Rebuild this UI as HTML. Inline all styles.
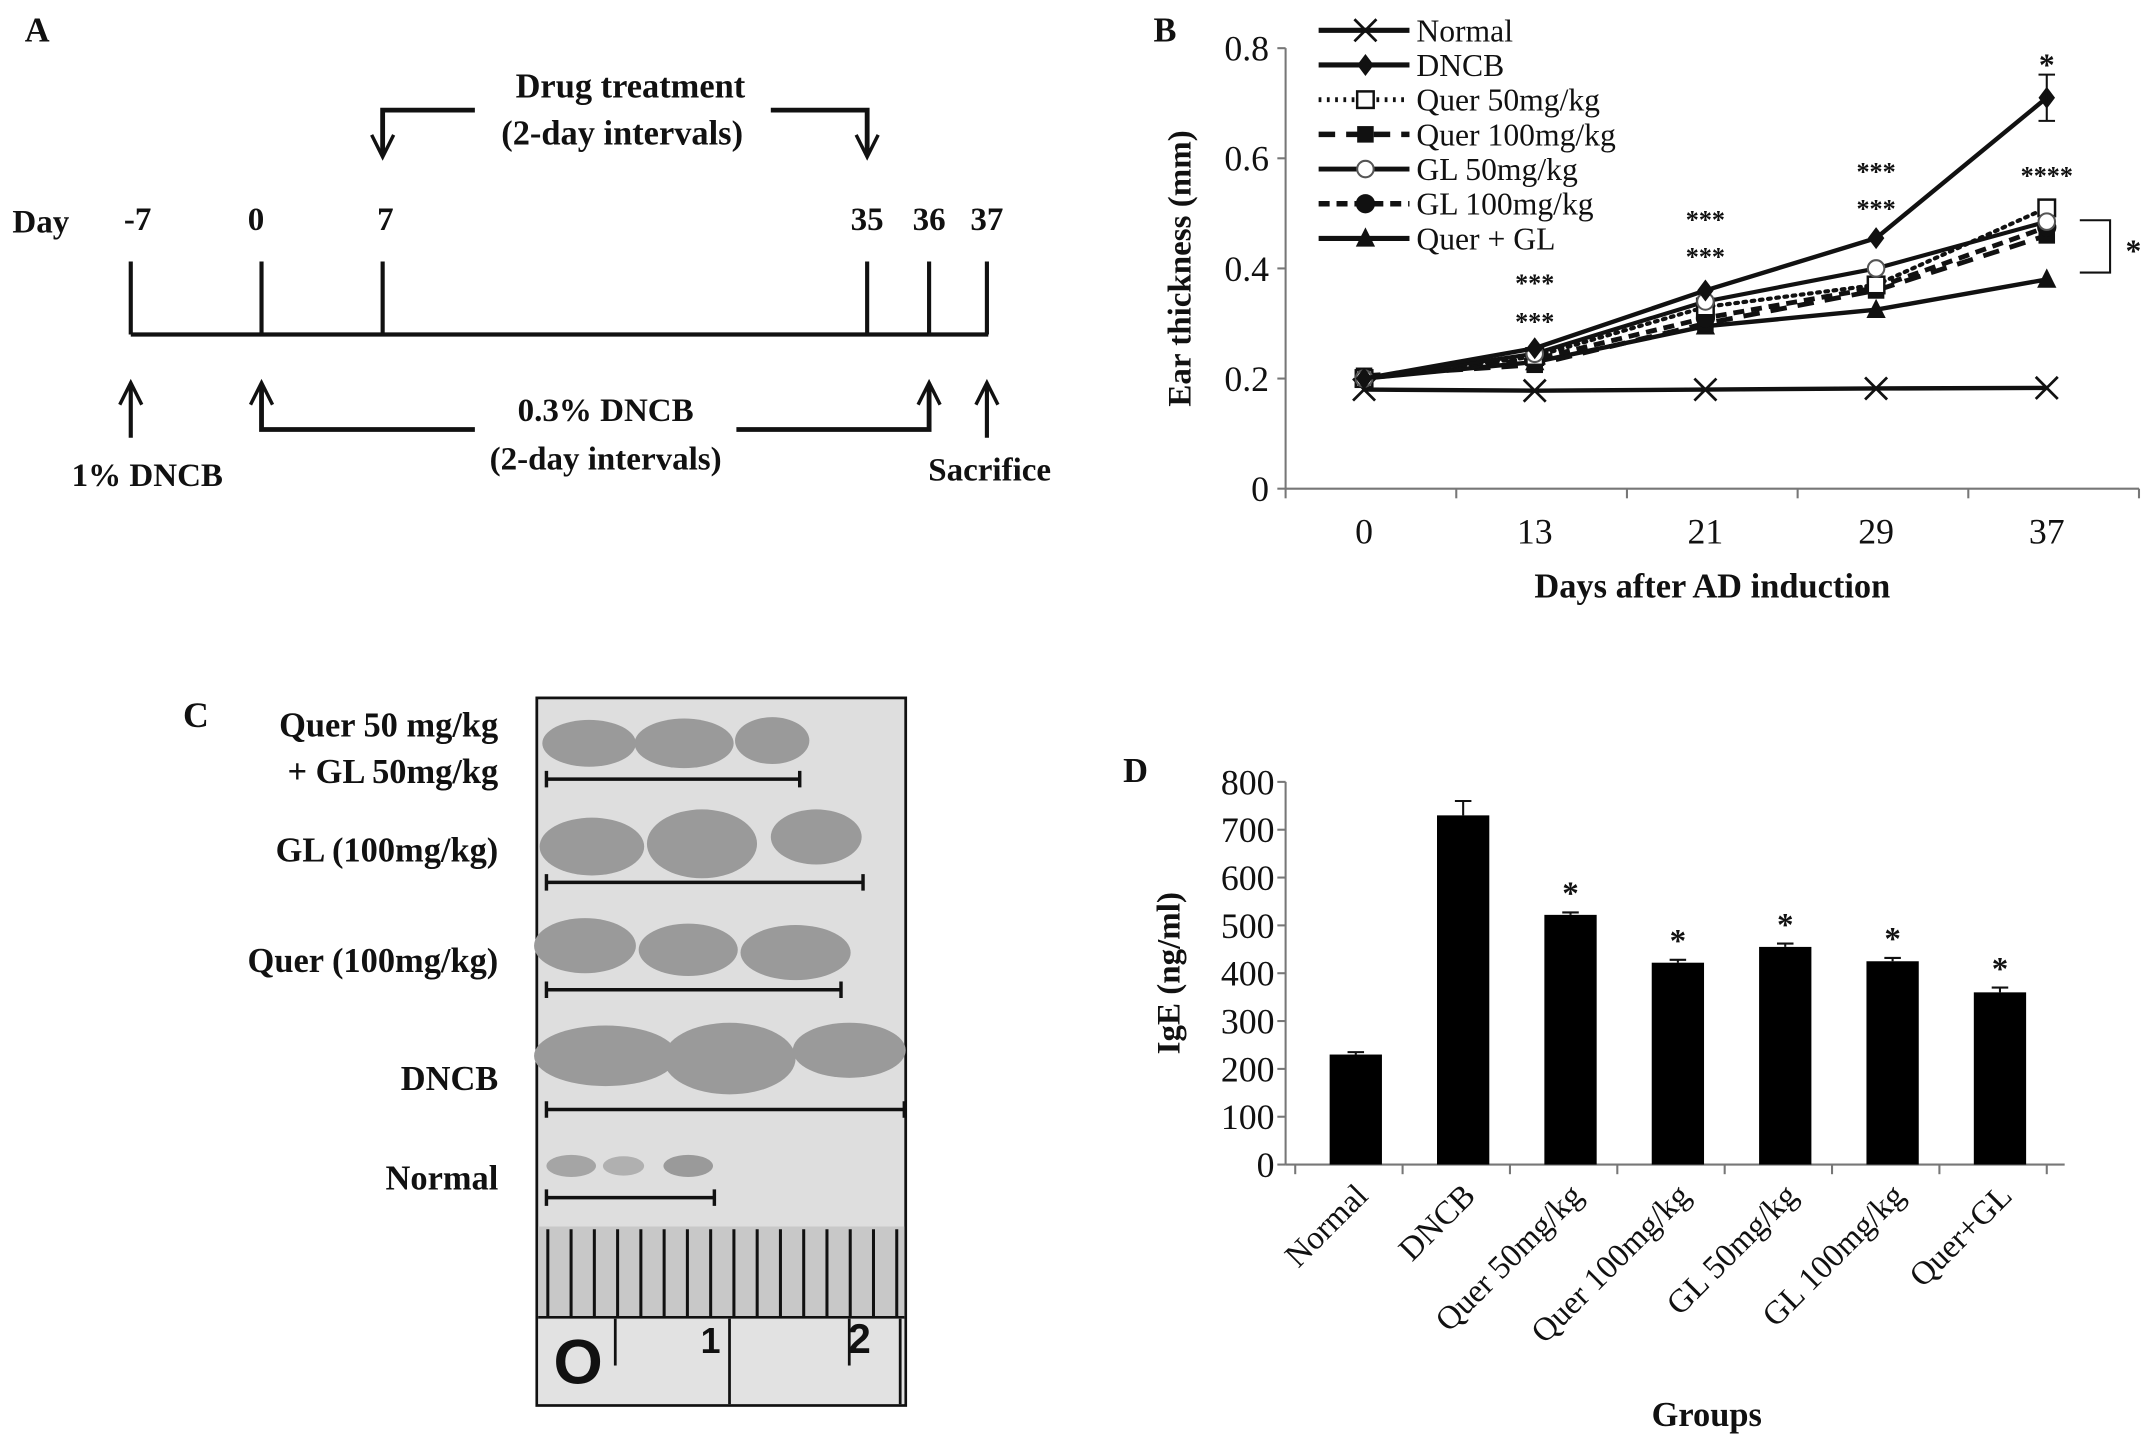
<!DOCTYPE html>
<html><head><meta charset="utf-8"><style>
html,body{margin:0;padding:0;background:#fff;}
svg{display:block;}
text{font-family:"Liberation Serif",serif;fill:#111;}
.b{font-weight:bold;}
</style></head><body>
<svg id="fig" width="2150" height="1444" viewBox="0 0 1562 1049" preserveAspectRatio="none" xmlns="http://www.w3.org/2000/svg">
<!-- Panel A -->
<g stroke="#111" fill="none" stroke-width="3">
<text x="18" y="30" class="b" font-size="25" stroke="none">A</text>
<line x1="95" y1="243" x2="718" y2="243"/>
<line x1="95" y1="190" x2="95" y2="243"/><line x1="190" y1="190" x2="190" y2="243"/><line x1="278" y1="190" x2="278" y2="243"/>
<line x1="630" y1="190" x2="630" y2="243"/><line x1="675" y1="190" x2="675" y2="243"/><line x1="717" y1="190" x2="717" y2="243"/>
<polyline points="345,80 278,80 278,112" stroke-width="3.5"/>
<path d="M270,98 L278,114 L286,98" stroke-width="2.5"/>
<polyline points="560,80 630,80 630,112" stroke-width="3.5"/>
<path d="M622,98 L630,114 L638,98" stroke-width="2.5"/>
<line x1="95" y1="318" x2="95" y2="280"/><path d="M87,294 L95,278 L103,294" stroke-width="2.5"/>
<polyline points="345,312 190,312 190,280" stroke-width="3.5"/><path d="M182,294 L190,278 L198,294" stroke-width="2.5"/>
<polyline points="535,312 675,312 675,280" stroke-width="3.5"/><path d="M667,294 L675,278 L683,294" stroke-width="2.5"/>
<line x1="717" y1="318" x2="717" y2="280"/><path d="M709,294 L717,278 L725,294" stroke-width="2.5"/>
</g>
<g font-size="24">
<text x="458" y="71" text-anchor="middle" class="b" font-size="25">Drug treatment</text>
<text x="452" y="105" text-anchor="middle" class="b" font-size="25">(2-day intervals)</text>
<text x="9" y="169" class="b">Day</text>
<text x="100" y="167" text-anchor="middle" class="b">-7</text>
<text x="186" y="167" text-anchor="middle" class="b">0</text>
<text x="280" y="167" text-anchor="middle" class="b">7</text>
<text x="630" y="167" text-anchor="middle" class="b">35</text>
<text x="675" y="167" text-anchor="middle" class="b">36</text>
<text x="717" y="167" text-anchor="middle" class="b">37</text>
<text x="440" y="306" text-anchor="middle" class="b">0.3% DNCB</text>
<text x="440" y="341" text-anchor="middle" class="b">(2-day intervals)</text>
<text x="107" y="353" text-anchor="middle" class="b">1% DNCB</text>
<text x="719" y="349" text-anchor="middle" class="b">Sacrifice</text>
</g>

<!-- Panel C -->
<g>
<text x="133" y="528" class="b" font-size="26">C</text>
<g font-size="25" text-anchor="end">
<text x="362" y="535" class="b">Quer 50 mg/kg</text>
<text x="362" y="569" class="b">+ GL 50mg/kg</text>
<text x="362" y="626" class="b">GL (100mg/kg)</text>
<text x="362" y="706" class="b">Quer (100mg/kg)</text>
<text x="362" y="792" class="b">DNCB</text>
<text x="362" y="864" class="b">Normal</text>
</g>
<rect x="390" y="507" width="268" height="514" fill="#dedede" stroke="#111" stroke-width="2"/>
<g fill="#9a9a9a">
<ellipse cx="428" cy="540" rx="34" ry="17"/><ellipse cx="497" cy="540" rx="36" ry="18"/><ellipse cx="561" cy="538" rx="27" ry="17"/>
<ellipse cx="430" cy="615" rx="38" ry="21"/><ellipse cx="510" cy="613" rx="40" ry="25"/><ellipse cx="593" cy="608" rx="33" ry="20"/>
<ellipse cx="425" cy="687" rx="37" ry="20"/><ellipse cx="500" cy="690" rx="36" ry="19"/><ellipse cx="578" cy="692" rx="40" ry="20"/>
<ellipse cx="440" cy="767" rx="52" ry="22"/><ellipse cx="530" cy="769" rx="48" ry="26"/><ellipse cx="617" cy="763" rx="41" ry="20"/>
<ellipse cx="415" cy="847" rx="18" ry="8" fill="#a5a5a5"/><ellipse cx="453" cy="847" rx="15" ry="7" fill="#b0b0b0"/><ellipse cx="500" cy="847" rx="18" ry="8"/>
</g>
<g stroke="#111" stroke-width="2.5" fill="none">
<path d="M397,566 H581 M397,560 V572 M581,560 V572"/>
<path d="M397,641 H627 M397,635 V647 M627,635 V647"/>
<path d="M397,719 H611 M397,713 V725 M611,713 V725"/>
<path d="M397,806 H657 M397,800 V812 M657,800 V812"/>
<path d="M397,870 H519 M397,864 V876 M519,864 V876"/>
</g>
<rect x="391" y="891" width="266" height="66" fill="#c8c8c8"/>
<g id="rulerTicks" stroke="#111" stroke-width="2.2"></g>
<line x1="391" y1="957" x2="657" y2="957" stroke="#111" stroke-width="2"/>
<rect x="391" y="958" width="266" height="62" fill="#e2e2e2"/>
<g stroke="#111" stroke-width="2"><line x1="447" y1="958" x2="447" y2="992"/><line x1="530" y1="958" x2="530" y2="1020"/><line x1="617" y1="958" x2="617" y2="992"/><line x1="654" y1="958" x2="654" y2="1020"/></g>
<text x="420" y="1005" font-size="46" text-anchor="middle" class="b" style="font-family:'Liberation Sans',sans-serif">O</text>
<text x="509" y="983" font-size="26" class="b" style="font-family:'Liberation Sans',sans-serif">1</text>
<text x="616" y="983" font-size="30" class="b" style="font-family:'Liberation Sans',sans-serif">2</text>
</g>

<g id="panelB"></g>
<g id="panelD"></g>
</svg>
<script>
const NS="http://www.w3.org/2000/svg";
function mk(parent,tag,attrs,txt){const e=document.createElementNS(NS,tag);for(const k in attrs)e.setAttribute(k,attrs[k]);if(txt!==undefined)e.textContent=txt;parent.appendChild(e);return e;}

const rt=document.getElementById('rulerTicks');
for(let i=0;i<16;i++){const x=398+i*16.9;mk(rt,'line',{x1:x,y1:893,x2:x,y2:956});}

// ===== Panel B data =====
const daysB=["0","13","21","29","37"];
const yTicksB=[0,0.2,0.4,0.6,0.8];
const seriesNames=["Normal","DNCB","Quer 50mg/kg","Quer 100mg/kg","GL 50mg/kg","GL 100mg/kg","Quer + GL"];
const sNormal=[0.18,0.178,0.18,0.182,0.183];
const sDNCB=[0.20,0.255,0.36,0.455,0.71];
const sQuer50=[0.20,0.24,0.33,0.37,0.51];
const sQuer100=[0.205,0.225,0.30,0.36,0.46];
const sGL50=[0.20,0.245,0.34,0.40,0.485];
const sGL100=[0.20,0.235,0.31,0.365,0.475];
const sQuerGL=[0.20,0.23,0.295,0.325,0.38];
const sigLabelsB=["","***","***","***","****"];

const B=document.getElementById('panelB');
const bx0=934,bx1=1554,by0=355,by1=35;
const xB=i=>bx0-5+(bx1-bx0)/daysB.length*(i+0.5);
const yB=v=>by0-(by0-by1)*v/0.8;
mk(B,'text',{x:838,y:30,'font-size':25,'class':'b'},'B');
mk(B,'line',{x1:bx0,y1:by1,x2:bx0,y2:by0,stroke:'#777','stroke-width':1.5});
mk(B,'line',{x1:bx0,y1:by0,x2:bx1,y2:by0,stroke:'#777','stroke-width':1.5});
yTicksB.forEach(v=>{mk(B,'line',{x1:bx0-6,y1:yB(v),x2:bx0,y2:yB(v),stroke:'#777','stroke-width':1.5});
 const t=mk(B,'text',{x:bx0-12,y:yB(v)+9,'font-size':26,'text-anchor':'end'},v===0?'0':v.toFixed(1));
 
 });
for(let i=0;i<=daysB.length;i++){const x=bx0+(bx1-bx0)/daysB.length*i;mk(B,'line',{x1:x,y1:by0,x2:x,y2:by0+7,stroke:'#777','stroke-width':1.5});}
daysB.forEach((d,i)=>{const t=mk(B,'text',{x:xB(i),y:395,'font-size':26,'text-anchor':'middle'},d);
 
 });
const xt=mk(B,'text',{x:1244,y:434,'font-size':25,'text-anchor':'middle','class':'b'},'Days after AD induction');


const yt=mk(B,'text',{x:0,y:0,'font-size':24,'text-anchor':'middle','class':'b',transform:'translate(865,195) rotate(-90)'},'Ear thickness (mm)');



function marker(g,type,x,y){
 const s=8;
 if(type==='x'){mk(g,'path',{d:`M${x-s},${y-s}L${x+s},${y+s}M${x-s},${y+s}L${x+s},${y-s}`,stroke:'#111','stroke-width':2,fill:'none'});}
 else if(type==='diamond'){mk(g,'path',{d:`M${x},${y-8}L${x+6},${y}L${x},${y+8}L${x-6},${y}Z`,fill:'#111'});}
 else if(type==='osq'){mk(g,'rect',{x:x-6,y:y-6,width:12,height:12,fill:'#fff',stroke:'#111','stroke-width':1.8});}
 else if(type==='sq'){mk(g,'rect',{x:x-6,y:y-6,width:12,height:12,fill:'#111'});}
 else if(type==='ocirc'){mk(g,'circle',{cx:x,cy:y,r:6,fill:'#fff',stroke:'#555','stroke-width':1.5});}
 else if(type==='circ'){mk(g,'circle',{cx:x,cy:y,r:7,fill:'#111'});}
 else if(type==='tri'){mk(g,'path',{d:`M${x},${y-8}L${x+7},${y+6}L${x-7},${y+6}Z`,fill:'#111'});}
}
const allSeries=[sNormal,sDNCB,sQuer50,sQuer100,sGL50,sGL100,sQuerGL];
const dashes=['none','none','2,4','12,8','none','8,5','none'];
const marks=['x','diamond','osq','sq','ocirc','circ','tri'];
const widths=[3.2,3.2,3,3.5,3,3.5,3.2];
const drawOrder=[0,6,3,5,2,4,1];
drawOrder.forEach(si=>{
 const g=mk(B,'g',{});
 
 
 const pts=allSeries[si].map((v,i)=>xB(i)+','+yB(v)).join(' ');
 mk(g,'polyline',{points:pts,fill:'none',stroke:'#111','stroke-width':widths[si],'stroke-dasharray':dashes[si],'stroke-linecap':si===2?'round':'butt'});
 allSeries[si].forEach((v,i)=>marker(g,marks[si],xB(i),yB(v)));
});
const eb=mk(B,'path',{d:`M${xB(4)},${yB(0.752)}V${yB(0.668)}M${xB(4)-6},${yB(0.752)}H${xB(4)+6}M${xB(4)-6},${yB(0.668)}H${xB(4)+6}`,stroke:'#111','stroke-width':1.5,fill:'none'});


sigLabelsB.forEach((s,i)=>{if(!s)return;
 const t1=mk(B,'text',{x:xB(i),y:i===4?134:[0,212,166,131][i],'font-size':19,'text-anchor':'middle','class':'b'},s);
 
 
 if(i<4){const t2=mk(B,'text',{x:xB(i),y:[0,240,193,158][i],'font-size':19,'text-anchor':'middle','class':'b'},s);
 
 }
});
mk(B,'text',{x:xB(4),y:55,'font-size':23,'text-anchor':'middle','class':'b'},'*');
mk(B,'polyline',{points:'1511,160 1533,160 1533,198 1511,198',fill:'none',stroke:'#111','stroke-width':1.5});
mk(B,'text',{x:1550,y:190,'font-size':23,'text-anchor':'middle','class':'b'},'*');
seriesNames.forEach((n,i)=>{
 const y=22+i*25.2;
 const g=mk(B,'g',{});
 
 
 mk(g,'line',{x1:958,y1:y,x2:1024,y2:y,stroke:'#111','stroke-width':widths[i]+0.5,'stroke-dasharray':dashes[i]});
 marker(g,marks[i],992,y);
 mk(g,'text',{x:1029,y:y+8,'font-size':23},n);
});

// ===== Panel D data =====
const groupsD=["Normal","DNCB","Quer 50mg/kg","Quer 100mg/kg","GL 50mg/kg","GL 100mg/kg","Quer+GL"];
const valuesD=[230,730,522,422,455,425,360];
const errorsD=[5,30,5,6,7,7,10];
const sigD=["","","*","*","*","*","*"];
const yTicksD=[0,100,200,300,400,500,600,700,800];

const D=document.getElementById('panelD');
const dx0=946,dx1=1492,dy0=846,dy1=568;
const step=(dx1-dx0)/groupsD.length;
const xD=i=>dx0+step*(i+0.5);
const yD=v=>dy0-(dy0-dy1)*v/800;
mk(D,'text',{x:816,y:568,'font-size':25,'class':'b'},'D');
mk(D,'line',{x1:dx0-12,y1:dy1,x2:dx0-12,y2:dy0,stroke:'#777','stroke-width':1.5});
mk(D,'line',{x1:dx0-12,y1:dy0,x2:dx1+8,y2:dy0,stroke:'#777','stroke-width':1.5});
yTicksD.forEach(v=>{mk(D,'line',{x1:dx0-18,y1:yD(v),x2:dx0-12,y2:yD(v),stroke:'#777','stroke-width':1.5});
 const t=mk(D,'text',{x:dx0-20,y:yD(v)+9,'font-size':26,'text-anchor':'end'},String(v));
 
 });
for(let i=0;i<=groupsD.length;i++){const x=dx0-5+step*i;mk(D,'line',{x1:x,y1:dy0,x2:x,y2:dy0+7,stroke:'#777','stroke-width':1.5});}
groupsD.forEach((gname,i)=>{
 const x=xD(i);
 const r=mk(D,'rect',{x:x-19,y:yD(valuesD[i]),width:38,height:dy0-yD(valuesD[i]),fill:'#000'});
 
 
 const ye=yD(valuesD[i]+errorsD[i]);
 mk(D,'path',{d:`M${x},${yD(valuesD[i])}V${ye}M${x-6},${ye}H${x+6}`,stroke:'#111','stroke-width':1.5,fill:'none'});
 if(sigD[i]){const s=mk(D,'text',{x:x,y:ye-6,'font-size':24,'text-anchor':'middle','class':'b'},sigD[i]);
 
 }
 const t=mk(D,'text',{x:0,y:0,'font-size':24,'text-anchor':'end',transform:`translate(${x+10},${dy0+24}) rotate(-45)`},gname);
 
 
});
const gt=mk(D,'text',{x:1240,y:1036,'font-size':25,'text-anchor':'middle','class':'b'},'Groups');


const it=mk(D,'text',{x:0,y:0,'font-size':24,'text-anchor':'middle','class':'b',transform:'translate(857,707) rotate(-90)'},'IgE (ng/ml)');


</script>
</body></html>
